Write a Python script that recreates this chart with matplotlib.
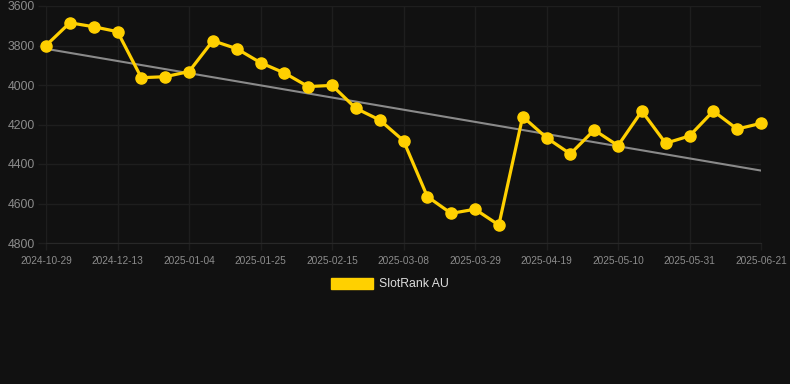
import numpy as np
import matplotlib
matplotlib.use("Agg")
import matplotlib.pyplot as plt

# rank values (lower is better, so the axis is inverted)
ranks = [3800, 3685, 3705, 3730, 3963, 3958, 3932, 3776, 3816, 3887,
         3939, 4008, 4002, 4118, 4177, 4282, 4565, 4650, 4629, 4709,
         4160, 4267, 4349, 4228, 4307, 4132, 4295, 4258, 4132, 4223, 4194]

# a label every third point
tick_labels = ["2024-10-29", "2024-12-13", "2025-01-04", "2025-01-25",
               "2025-02-15", "2025-03-08", "2025-03-29", "2025-04-19",
               "2025-05-10", "2025-05-31", "2025-06-21"]
y_ticks = [3600, 3800, 4000, 4200, 4400, 4600, 4800]

bg = "#111111"
grid_col = "#1e1e1e"
yellow = "#FFD000"

plt.rcParams["font.family"] = ["Liberation Sans", "DejaVu Sans"]

x = np.arange(len(ranks))
slope, icpt = np.polyfit(x, ranks, 1)
trend = slope * x + icpt

fig = plt.figure(figsize=(7.9, 3.84), dpi=100, facecolor=bg)
ax = fig.add_axes([46 / 790, 1 - 243 / 384, 715 / 790, 237 / 384])
ax.set_facecolor(bg)

ax.plot(x, trend, color="#8a8a8a", lw=1.5, zorder=2)
ax.plot(x, ranks, color=yellow, lw=2.3, marker="o", ms=8,
        zorder=3, clip_on=False)

ax.set_xlim(0, len(ranks) - 1)
ax.set_ylim(4800, 3600)
ax.set_xticks(x[::3])
ax.set_xticklabels(tick_labels)
ax.set_yticks(y_ticks)

ax.grid(True, color=grid_col, lw=1.0)
ax.tick_params(axis="x", colors=grid_col, labelcolor="#8c8c8c",
               labelsize=7.3, length=5, width=1.0, pad=4)
ax.tick_params(axis="y", colors=grid_col, labelcolor="#8c8c8c",
               labelsize=8.8, length=6, width=1.0, pad=2)
for side in ["top", "right", "left"]:
    ax.spines[side].set_visible(False)
ax.spines["bottom"].set_color("#282828")

# legend drawn as a patch below the plot
handle = matplotlib.patches.Patch(color=yellow, label="SlotRank AU")
leg = fig.legend(handles=[handle], loc="center", bbox_to_anchor=(390 / 790, 1 - 284 / 384),
                 frameon=False, fontsize=8.8, handlelength=3.4, handleheight=1.0,
                 handletextpad=0.5)
for t in leg.get_texts():
    t.set_color("#dddddd")

plt.savefig("out.png", dpi=100, facecolor=bg)
